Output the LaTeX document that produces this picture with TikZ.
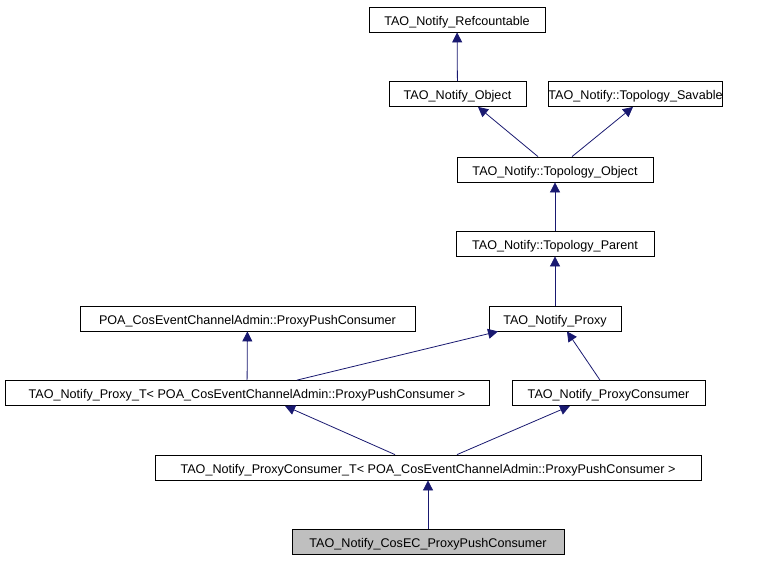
\documentclass[tikz,border=0pt]{standalone}
\usepackage{fontspec}
\setmainfont{Liberation Sans}
\usetikzlibrary{arrows.meta}
\definecolor{edgeblue}{HTML}{191970}
\tikzstyle{cls}    = [draw=black, fill=white, line width=0.8pt, minimum height=25pt, inner sep=0pt, text height=11.5pt, text depth=0.5pt, font=\fontsize{12.6}{15}\selectfont]
\tikzstyle{derive} = [edgeblue, line width=0.8pt, {Triangle[length=10pt,width=10pt]}-]

\begin{document}
\begin{tikzpicture}[x=1pt,y=-1pt]
		\useasboundingbox (0,0) rectangle (760,560);

		% classes
		\node[cls, minimum width=176pt] (refc) at (457,19.5) {TAO\_Notify\_Refcountable};
		\node[cls, minimum width=137pt] (obj) at (457.5,94) {TAO\_Notify\_Object};
		\node[cls, minimum width=173pt] (sav) at (635.5,94) {TAO\_Notify::Topology\_Savable};
		\node[cls, minimum width=196pt] (tobj) at (555,169.5) {TAO\_Notify::Topology\_Object};
		\node[cls, minimum width=198pt] (tpar) at (555,243.5) {TAO\_Notify::Topology\_Parent};
		\node[cls, minimum width=335pt] (poa) at (247.5,318.5) {POA\_CosEventChannelAdmin::ProxyPushConsumer};
		\node[cls, minimum width=132pt] (proxy) at (555,318.5) {TAO\_Notify\_Proxy};
		\node[cls, minimum width=484pt] (proxyt) at (247,393) {TAO\_Notify\_Proxy\_T< POA\_CosEventChannelAdmin::ProxyPushConsumer >};
		\node[cls, minimum width=193pt] (pcons) at (608.5,393) {TAO\_Notify\_ProxyConsumer};
		\node[cls, minimum width=546pt] (pconst) at (428,467.5) {TAO\_Notify\_ProxyConsumer\_T< POA\_CosEventChannelAdmin::ProxyPushConsumer >};
		\node[cls, minimum width=272pt, fill=black!25] (cosec) at (428,542) {TAO\_Notify\_CosEC\_ProxyPushConsumer};

		% inheritance
		\draw[derive] (refc) -- (obj);
		\draw[derive] ([xshift=20.5pt]obj.south) -- ([xshift=-17pt]tobj.north);
		\draw[derive] ([xshift=-2.5pt]sav.south) -- ([xshift=17pt]tobj.north);
		\draw[derive] (tobj) -- (tpar);
		\draw[derive] (tpar) -- (proxy);
		\draw[derive] (poa) -- (proxyt);
		\draw[derive] ([xshift=-57pt]proxy.south) -- ([xshift=50pt]proxyt.north);
		\draw[derive] ([xshift=12pt]proxy.south) -- ([xshift=-8.5pt]pcons.north);
		\draw[derive] ([xshift=38pt]proxyt.south) -- ([xshift=-33pt]pconst.north);
		\draw[derive] ([xshift=-38.5pt]pcons.south) -- ([xshift=29pt]pconst.north);
		\draw[derive] (pconst) -- (cosec);
	\end{tikzpicture}
\end{document}
